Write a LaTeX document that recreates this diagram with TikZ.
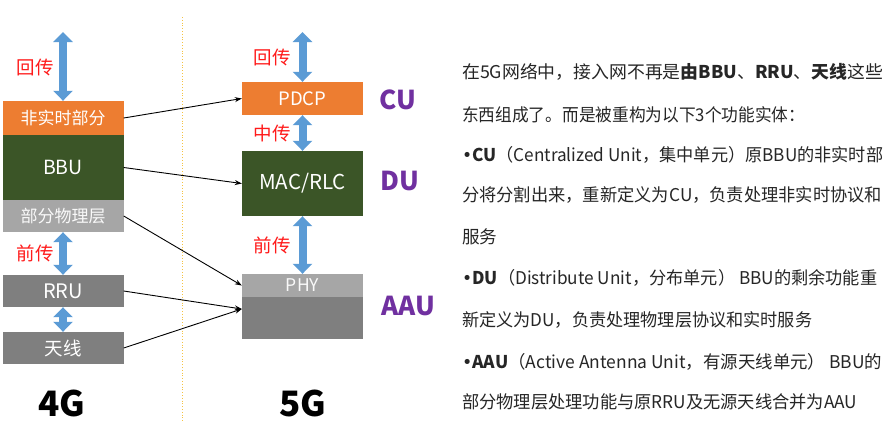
\documentclass[tikz,border=0pt]{standalone}
\usepackage{fontspec}
\setmainfont{Noto Sans CJK SC}
\newfontfamily\dejaf{DejaVu Sans}
\usetikzlibrary{arrows.meta,calc}
\definecolor{orgc}{HTML}{ED7D31}
\definecolor{grnc}{HTML}{3B5527}
\definecolor{lgry}{HTML}{A6A6A6}
\definecolor{dgry}{HTML}{7F7F7F}
\definecolor{bluc}{HTML}{5B9BD5}
\definecolor{redc}{HTML}{FF1A1A}
\definecolor{purc}{HTML}{7030A0}
\definecolor{txtc}{HTML}{262626}
\definecolor{dotc}{HTML}{F5C342}
\newcommand{\bul}{{\dejaf\mdseries •}}
\newcommand{\fitw}[2]{\resizebox{#1}{\height}{#2}}
\begin{document}
\begin{tikzpicture}[x=1pt,y=-1pt,
  box/.style={inner sep=0pt,minimum width=121pt,text=white,font=\fontsize{17}{17}\selectfont},
  barrow/.style={draw=bluc,line width=8pt,{Triangle[width=19pt,length=10pt]}-{Triangle[width=19pt,length=10pt]}},
  lbl/.style={text=redc,font=\fontsize{18.5}{18.5}\selectfont,inner sep=0pt},
  ent/.style={text=purc,font=\bfseries\fontsize{26}{26}\selectfont,inner sep=0pt},
  conn/.style={draw=black,line width=0.9pt,-{Stealth[length=7pt,width=5pt]}},
  para/.style={anchor=west,text=txtc,font=\fontsize{17.6}{17.6}\selectfont,inner sep=0pt},
  gen/.style={font=\bfseries\fontsize{35}{35}\selectfont,anchor=base,inner sep=0pt,text=black}]
\useasboundingbox (0,0) rectangle (891,421);
\fill[white] (0,0) rectangle (891,421);
% divider
\draw[dotc,line width=0.8pt,dotted] (182,17) -- (182,421);
% 4G column
\node[box,fill=orgc,minimum height=34pt] (nrt) at (63,118) {非实时部分};
\node[box,fill=grnc,minimum height=65pt,font=\fontsize{19.5}{19.5}\selectfont] (bbu) at (63,167.5) {BBU};
\node[box,fill=lgry,minimum height=32pt,text=white!95!gray] (phys) at (63,216) {部分物理层};
\node[box,fill=dgry,minimum height=32pt,font=\fontsize{20}{20}\selectfont] (rru) at (63,291) {RRU};
\node[box,fill=dgry,minimum height=32pt,font=\fontsize{18.5}{18.5}\selectfont] (ant) at (63,348) {天线};
\coordinate (top4) at (63,32);
\draw[barrow] (top4) -- (nrt.north);
\draw[barrow] (phys.south) -- (rru.north);
\draw[barrow] (rru.south) -- (ant.north);
\node[lbl] (l4a) at (35,68) {回传};
\node[lbl] (l4b) at (35,253) {前传};
\node[gen] (g4) at (62,416) {4G};
% 5G column
\node[box,fill=orgc,minimum height=33pt,font=\fontsize{18.5}{18.5}\selectfont] (pdcp) at (302.5,98.5) {PDCP};
\node[box,fill=grnc,minimum height=65pt,font=\fontsize{20.5}{20.5}\selectfont] (mac) at (302.5,183.5) {MAC/RLC};
\node[box,fill=lgry,minimum height=23pt,text=white!95!gray,font=\fontsize{17.5}{17.5}\selectfont] (phy) at (302.5,285.5) {PHY};
\node[box,fill=dgry,minimum height=42pt] (aau) at (302.5,318) {};
\coordinate (top5) at (302.5,32);
\coordinate (aauin) at ($(aau.west)+(0,-9)$);
\draw[barrow] (top5) -- (pdcp.north);
\draw[barrow] (pdcp.south) -- (mac.north);
\draw[barrow] (mac.south) -- (phy.north);
\node[lbl] (l5a) at (272,58) {回传};
\node[lbl] (l5b) at (272,133) {中传};
\node[lbl] (l5c) at (272,245) {前传};
\node[gen] (g5) at (303,416) {5G};
\node[ent] (cu) at (398,100) {CU};
\node[ent] (du) at (400,181) {DU};
\node[ent] (aaul) at (408,306) {AAU};
% connectors
\draw[conn] (nrt.east) -- (pdcp.west);
\draw[conn] (bbu.east) -- (mac.west);
\draw[conn] (phys.east) -- (phy.west);
\draw[conn] (rru.east) -- (aauin);
\draw[conn] (ant.east) -- (aauin);
% text
\node[para] (t1) at (462,72) {\fitw{421pt}{在5G网络中，接入网不再是\textbf{由BBU}、\textbf{RRU}、\textbf{天线}这些}};
\node[para] (t2) at (462,115) {\fitw{343pt}{东西组成了。而是被重构为以下3个功能实体：}};
\node[para] (t3) at (462,155) {\fitw{421pt}{\bul\textbf{CU}（Centralized Unit，集中单元）原BBU的非实时部}};
\node[para] (t4) at (462,195) {\fitw{420pt}{分将分割出来，重新定义为CU，负责处理非实时协议和}};
\node[para] (t5) at (462,237) {服务};
\node[para] (t6) at (462,278) {\fitw{415pt}{\bul\textbf{DU}（Distribute Unit，分布单元） BBU的剩余功能重}};
\node[para] (t7) at (462,320) {\fitw{350pt}{新定义为DU，负责处理物理层协议和实时服务}};
\node[para] (t8) at (462,362) {\fitw{420pt}{\bul\textbf{AAU}（Active Antenna Unit，有源天线单元） BBU的}};
\node[para] (t9) at (462,402) {\fitw{395pt}{部分物理层处理功能与原RRU及无源天线合并为AAU}};
\end{tikzpicture}
\end{document}
